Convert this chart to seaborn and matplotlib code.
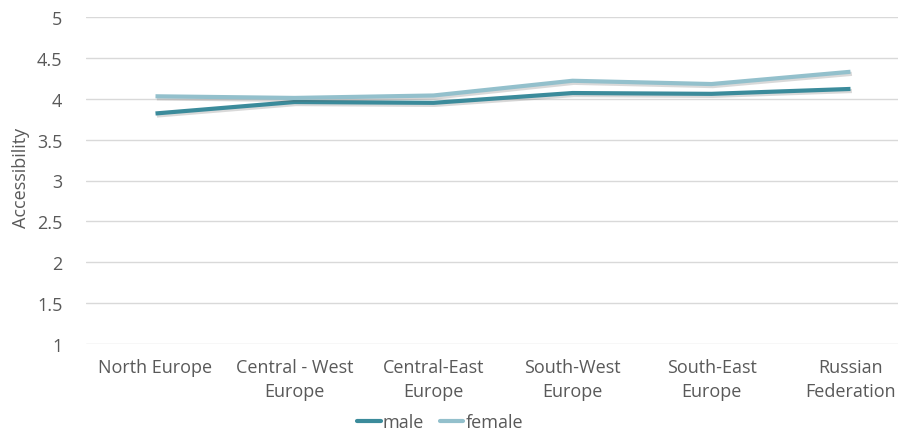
import matplotlib
matplotlib.use("Agg")
import matplotlib.pyplot as plt
import matplotlib.patheffects as pe
from matplotlib.lines import Line2D
import seaborn as sns
import pandas as pd

regions = ["North Europe", "Central - West\nEurope", "Central-East\nEurope",
           "South-West\nEurope", "South-East\nEurope", "Russian\nFederation"]
male = [3.82, 3.96, 3.95, 4.07, 4.06, 4.12]
female = [4.03, 4.01, 4.04, 4.22, 4.18, 4.33]
series = ["male", "female"]
colors = {"male": "#3b8b9b", "female": "#93c0cc"}

df = pd.DataFrame({
    "region": regions * 2,
    "value": male + female,
    "sex": ["male"] * len(regions) + ["female"] * len(regions),
})

sns.set_theme(style="white")
plt.rcParams["font.family"] = ["Open Sans", "DejaVu Sans"]

fig = plt.figure(figsize=(8.98, 4.35), dpi=100)
ax = fig.add_axes([86 / 898, 90 / 435, 834 / 898, 327 / 435])

sns.lineplot(data=df, x="region", y="value", hue="sex", hue_order=series,
             palette=colors, linewidth=3, sort=False, legend=False, ax=ax,
             zorder=3)
for line in ax.get_lines():
    line.set_path_effects([pe.SimpleLineShadow(offset=(1, -1.5), alpha=0.22,
                                               shadow_color="#555555"),
                           pe.Normal()])
    line.set_solid_capstyle("butt")

ax.set_xlim(-0.5, 5.5)
ax.set_ylim(1, 5)
ax.set_yticks([1, 1.5, 2, 2.5, 3, 3.5, 4, 4.5, 5])
ax.set_yticklabels(["1", "1.5", "2", "2.5", "3", "3.5", "4", "4.5", "5"])
ax.yaxis.grid(True, color="#d9d9d9", linewidth=1)
ax.set_axisbelow(True)
for s in ax.spines.values():
    s.set_visible(False)
ax.tick_params(axis="both", length=0, labelsize=13, labelcolor="#595959")
ax.tick_params(axis="y", pad=17)
ax.tick_params(axis="x", pad=10)
for t in ax.get_xticklabels():
    t.set_linespacing(1.45)
ax.set_xlabel("")
ax.set_ylabel("Accessibility", fontsize=13, color="#595959")
ax.yaxis.set_label_coords(-0.067, 0.51)

handles = [Line2D([0], [0], color=colors[s], linewidth=3) for s in series]
fig.legend(handles, series, loc="center", bbox_to_anchor=(440 / 898, 1 - 423 / 435),
           ncol=2, frameon=False, fontsize=13, handlelength=1.3, handletextpad=0.1,
           columnspacing=0.9, labelcolor="#595959")

fig.savefig("out.png", dpi=100)
